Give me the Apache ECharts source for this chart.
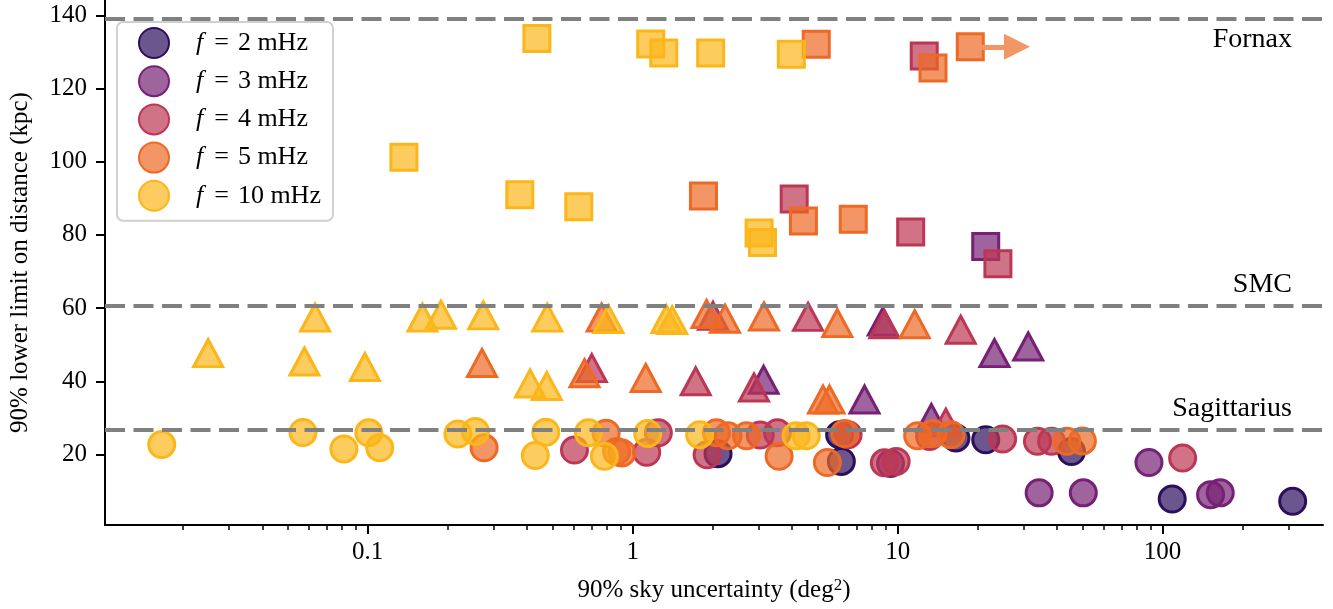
<!DOCTYPE html>
<html>
<head>
<meta charset="utf-8">
<script src="https://cdn.jsdelivr.net/npm/echarts@6/dist/echarts.min.js"></script>
<style>
  html, body { margin: 0; padding: 0; background: #fff; }
  #chart { width: 1333px; height: 609px; }
</style>
</head>
<body>
<div id="chart"></div>
<script>
// ---------- data (x: 90% sky uncertainty deg^2, y: 90% lower limit on distance kpc) ----------
const freqNames = ['f = 2 mHz', 'f = 3 mHz', 'f = 4 mHz', 'f = 5 mHz', 'f = 10 mHz'];

const circles2  = [[2.1,20.2],[6.04,25.4],[6.13,18.1],[16.6,24.5],[21.5,24.0],[45.3,20.8],[108.7,7.8],[309.6,7.2]];
const circles3  = [[9.4,17.5],[34.2,9.5],[50.2,9.5],[88.8,17.8],[151.7,9.0],[165,9.5]];
const circles4  = [[0.603,21.2],[1.13,20.6],[1.25,25.9],[1.91,19.9],[3.03,25.3],[3.52,25.9],[6.5,25.4],[8.91,17.7],[9.87,18.1],[13.2,24.9],[24.9,24.2],[33.7,23.6],[38.1,23.6],[119,19.0]];
const circles5  = [[0.275,21.8],[0.794,25.8],[0.87,20.8],[0.91,20.4],[2.07,25.9],[2.29,25.1],[2.69,25.1],[3.57,19.5],[5.43,17.8],[6.31,25.7],[11.9,25.1],[13.6,25.7],[15.9,25.4],[43.5,23.6],[49.8,23.7]];
const circles10 = [[0.0167,22.7],[0.057,26.0],[0.0813,21.5],[0.101,25.9],[0.111,21.8],[0.219,25.6],[0.255,26.3],[0.429,19.7],[0.47,26.1],[0.681,25.9],[0.782,19.5],[1.14,25.7],[1.79,25.4],[4.14,25.1],[4.52,25.1]];

const triangles2  = [];
const triangles3  = [[3.12,40.4],[7.5,35.0],[8.79,56.3],[13.4,30.0],[23.2,47.7],[31.1,49.5]];
const triangles4  = [[0.701,43.6],[1.73,40.0],[2.01,57.9],[2.87,38.3],[4.59,57.6],[8.91,55.6],[15.2,28.7],[17.3,54.1]];
const triangles5  = [[0.27,45.0],[0.658,42.2],[0.764,57.4],[1.12,40.9],[1.9,58.4],[2.23,57.1],[3.13,57.7],[5.23,35.0],[5.53,35.0],[5.92,55.9],[11.6,55.6]];
const triangles10 = [[0.025,47.7],[0.0577,45.4],[0.0633,57.4],[0.0976,43.9],[0.161,57.4],[0.189,58.2],[0.273,58.0],[0.41,39.4],[0.474,38.7],[0.476,57.4],[0.81,57.0],[1.34,57.0],[1.41,56.7]];

const squares2  = [];
const squares3  = [[21.5,76.8]];
const squares4  = [[4.07,89.8],[11.2,80.8],[12.6,128.9],[23.9,72.1]];
const squares5  = [[1.85,90.6],[4.41,83.8],[4.93,132.1],[6.8,84.3],[13.6,125.6],[18.8,131.4]];
const squares10 = [[0.137,101.2],[0.375,91.0],[0.435,133.7],[0.626,87.7],[1.17,132.2],[1.31,129.7],[1.97,129.7],[3.0,80.5],[3.09,77.9],[3.97,129.4]];

const galaxyNames = ['Fornax', 'SMC', 'Sagittarius'];
const galaxyDist  = [139, 60.6, 26.7];

const arrowFrom = [18.8, 131.4];
const arrowTo   = [28.2, 131.4];

const xMajorTicks = [0.1, 1, 10, 100];
const xMinorTicks = [0.02,0.03,0.04,0.05,0.06,0.07,0.08,0.09,
                     0.2,0.3,0.4,0.5,0.6,0.7,0.8,0.9,
                     2,3,4,5,6,7,8,9,
                     20,30,40,50,60,70,80,90,
                     200,300];
const yTicks = [20, 40, 60, 80, 100, 120, 140];

// ---------- styles ----------
const edgeColors = ['#2c0f5c', '#762175', '#bc3754', '#ed6925', '#fbb61a'];
const fillAlpha = 0.7;
const FONT = '"Liberation Serif", "DejaVu Serif", serif';
const FS = 25;
const FS_LEG = 26;
const FS_NOTE = 28;

function rgba(hex, a) {
  const n = parseInt(hex.slice(1), 16);
  return `rgba(${(n >> 16) & 255},${(n >> 8) & 255},${n & 255},${a})`;
}

const groups = [
  [circles2, triangles2, squares2],
  [circles3, triangles3, squares3],
  [circles4, triangles4, squares4],
  [circles5, triangles5, squares5],
  [circles10, triangles10, squares10]
];

function buildData(g) {
  const out = [];
  g[0].forEach(p => out.push({ value: p, symbol: 'circle', symbolSize: 26 }));
  g[1].forEach(p => out.push({ value: p, symbol: 'triangle', symbolSize: [29, 27] }));
  g[2].forEach(p => out.push({ value: p, symbol: 'rect', symbolSize: 26 }));
  return out;
}

const series = [];
// reference distance lines
series.push({
  name: 'ref',
  type: 'scatter',
  data: [],
  silent: true,
  z: 1,
  markLine: {
    silent: true,
    symbol: ['none', 'none'],
    animation: false,
    lineStyle: { color: '#808080', width: 4, type: [20, 8.5], cap: 'butt' },
    label: {
      show: true,
      formatter: '{b}',
      color: '#000',
      fontFamily: FONT,
      fontSize: FS_NOTE,
      distance: [31, 7]
    },
    data: galaxyNames.map((n, i) => ({
      name: n,
      yAxis: galaxyDist[i],
      label: { position: i === 0 ? 'insideEndBottom' : 'insideEndTop' }
    }))
  }
});

freqNames.forEach((name, i) => {
  const s = {
    name: name,
    type: 'scatter',
    data: buildData(groups[i]),
    symbol: 'circle',
    z: 3,
    itemStyle: {
      color: rgba(edgeColors[i], fillAlpha),
      borderColor: edgeColors[i],
      borderWidth: 3,
      opacity: 1
    },
    emphasis: { disabled: true }
  };
  if (i === 3) {
    s.markLine = {
      silent: true,
      animation: false,
      symbol: ['none', 'triangle'],
      symbolSize: 26,
      lineStyle: { color: '#f29666', width: 5, type: 'solid' },
      label: { show: false },
      data: [[{ coord: arrowFrom }, { coord: arrowTo }]]
    };
  }
  series.push(s);
});

const chart = echarts.init(document.getElementById('chart'), null, { renderer: 'canvas' });
chart.setOption({
  animation: false,
  backgroundColor: '#fff',
  grid: { left: 103, right: 10, top: 0, bottom: 84, containLabel: false },
  legend: {
    data: freqNames.map(n => ({ name: n, icon: 'circle' })),
    orient: 'vertical',
    left: 117,
    top: 22,
    itemWidth: 30,
    itemHeight: 30,
    itemGap: 6.2,
    padding: [5, 12, 9, 21],
    backgroundColor: 'rgba(255,255,255,0.8)',
    borderColor: '#d0d0d0',
    borderWidth: 2,
    borderRadius: 6,
    formatter: n => n.replace(/^f = (.*)$/, '{i|f}{eq|=}$1'),
    textStyle: {
      fontFamily: FONT,
      fontSize: FS_LEG,
      color: '#000',
      lineHeight: 30,
      padding: [0, 0, 0, 22],
      rich: {
        i: { fontFamily: FONT, fontSize: FS_LEG, fontStyle: 'italic', color: '#000', lineHeight: 30 },
        eq: { fontFamily: FONT, fontSize: FS_LEG, color: '#000', lineHeight: 30, padding: [0, 9, 0, 11] }
      }
    },
    selectedMode: false
  },
  xAxis: [
    {
      type: 'log',
      min: 0.0102,
      max: 403,
      name: '90% sky uncertainty (deg{s|2})',
      nameLocation: 'middle',
      nameGap: 52,
      nameTextStyle: {
        fontFamily: FONT, fontSize: FS, color: '#000',
        rich: { s: { fontFamily: FONT, fontSize: 17, color: '#000', verticalAlign: 'top', padding: [0, 0, 10, 0] } }
      },
      axisLine: { show: true, lineStyle: { color: '#000', width: 2 } },
      axisTick: { show: true, length: 9, lineStyle: { color: '#000', width: 2 }, customValues: xMajorTicks },
      axisLabel: {
        show: true, customValues: xMajorTicks,
        formatter: v => String(v),
        fontFamily: FONT, fontSize: FS, color: '#000', margin: 15
      },
      splitLine: { show: false },
      minorTick: { show: false }
    },
    {
      type: 'log',
      min: 0.0102,
      max: 403,
      position: 'bottom',
      axisLine: { show: false },
      axisTick: { show: true, length: 5, lineStyle: { color: '#000', width: 1.5 }, customValues: xMinorTicks },
      axisLabel: { show: false },
      splitLine: { show: false }
    }
  ],
  yAxis: {
    type: 'value',
    min: 0.72,
    max: 144.2,
    name: '90% lower limit on distance (kpc)',
    nameLocation: 'middle',
    nameRotate: 90,
    nameGap: 72,
    nameTextStyle: { fontFamily: FONT, fontSize: FS, color: '#000' },
    axisLine: { show: true, lineStyle: { color: '#000', width: 2 } },
    axisTick: { show: true, length: 9, lineStyle: { color: '#000', width: 2 }, customValues: yTicks },
    axisLabel: {
      show: true, customValues: yTicks,
      fontFamily: FONT, fontSize: FS, color: '#000', margin: 18
    },
    splitLine: { show: false }
  },
  series: series
});
</script>
</body>
</html>
